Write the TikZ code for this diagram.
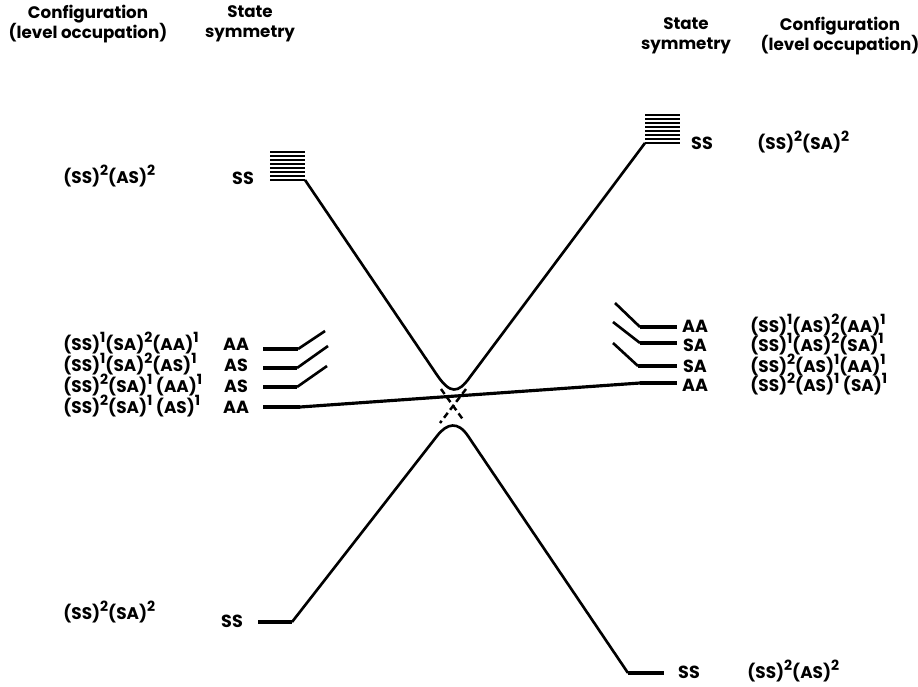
\documentclass[tikz,border=0pt]{standalone}
\usepackage{fontspec}
\setmainfont{Poppins}
\usepackage{tikz}
\usetikzlibrary{positioning}

\newcommand{\occ}[1]{\raisebox{0.42em}{\fontsize{8}{9}\selectfont #1}}

\begin{document}
\begin{tikzpicture}[
    x=0.02cm, y=-0.02cm,
    lbl/.style={font=\bfseries\fontsize{10}{11}\selectfont, inner sep=0pt},
    conf/.style={font=\bfseries\fontsize{9.6}{11}\selectfont, inner sep=0pt, anchor=west},
    head/.style={font=\bfseries\fontsize{9.5}{11.5}\selectfont, inner sep=0pt, align=center},
    level/.style={line width=2pt},
    curve/.style={line width=1.5pt},
    diab/.style={line width=1.4pt, dash pattern=on 3.5pt off 2.2pt}
]
    \useasboundingbox (0,0) rectangle (918,686);

    % Headings
    \node[head] (lconf) at (88,24) {Configuration\\(level occupation)};
    \node[head] (lsym) at (250,24) {State\\symmetry};
    \node[head] (rsym) at (686,36) {State\\symmetry};
    \node[head] (rconf) at (840,36) {Configuration\\(level occupation)};

    % Left levels
    \node[conf] (lc0) at (63,176) {(SS)\occ{2}(AS)\occ{2}};
    \node[lbl] (ls0) at (243,178) {SS};
    \node[conf] (lc1) at (63,343) {(SS)\occ{1}(SA)\occ{2}(AA)\occ{1}};
    \node[lbl] (ls1) at (236,344) {AA};
    \node[conf] (lc2) at (63,364) {(SS)\occ{1}(SA)\occ{2}(AS)\occ{1}};
    \node[lbl] (ls2) at (236,365) {AS};
    \node[conf] (lc3) at (63,385) {(SS)\occ{2}(SA)\occ{1} (AA)\occ{1}};
    \node[lbl] (ls3) at (236,386) {AS};
    \node[conf] (lc4) at (63,406) {(SS)\occ{2}(SA)\occ{1} (AS)\occ{1}};
    \node[lbl] (ls4) at (236,407) {AA};
    \node[conf] (lc5) at (63,612) {(SS)\occ{2}(SA)\occ{2}};
    \node[lbl] (ls5) at (232,621) {SS};

    % Right levels
    \node[lbl] (rs0) at (702,143) {SS};
    \node[conf] (rc0) at (757,142) {(SS)\occ{2}(SA)\occ{2}};
    \node[lbl] (rs1) at (695,326) {AA};
    \node[conf] (rc1) at (750,325) {(SS)\occ{1}(AS)\occ{2}(AA)\occ{1}};
    \node[lbl] (rs2) at (695,345) {SA};
    \node[conf] (rc2) at (750,344) {(SS)\occ{1}(AS)\occ{2}(SA)\occ{1}};
    \node[lbl] (rs3) at (695,366) {SA};
    \node[conf] (rc3) at (750,365) {(SS)\occ{2}(AS)\occ{1}(AA)\occ{1}};
    \node[lbl] (rs4) at (695,385) {AA};
    \node[conf] (rc4) at (750,384) {(SS)\occ{2}(AS)\occ{1} (SA)\occ{1}};
    \node[lbl] (rs5) at (689,672) {SS};
    \node[conf] (rc5) at (747,671) {(SS)\occ{2}(AS)\occ{2}};

    % Level end points
    \coordinate (lt) at (305,180);
    \coordinate (l1a) at (263,349); \coordinate (l1b) at (298,349); \coordinate (l1c) at (325,331);
    \coordinate (l2a) at (263,368); \coordinate (l2b) at (297,368); \coordinate (l2c) at (328,346);
    \coordinate (l3a) at (263,387); \coordinate (l3b) at (297,387); \coordinate (l3c) at (327,366);
    \coordinate (l4a) at (263,407); \coordinate (l4b) at (300,407);
    \coordinate (l5a) at (258,622); \coordinate (l5b) at (292,622);
    \coordinate (rt) at (645,143);
    \coordinate (r1a) at (615,303); \coordinate (r1b) at (640,327); \coordinate (r1c) at (677,327);
    \coordinate (r2a) at (613,322); \coordinate (r2b) at (640,343); \coordinate (r2c) at (677,343);
    \coordinate (r3a) at (613,343); \coordinate (r3b) at (638,366); \coordinate (r3c) at (677,366);
    \coordinate (r4a) at (640,383); \coordinate (r4b) at (677,383);
    \coordinate (r5a) at (628,673); \coordinate (r5b) at (664,673);

    % Dense stacks of SS levels
    \foreach \y in {152,156,...,180} \draw[line width=1.4pt] (270,\y) -- (305,\y);
    \foreach \y in {115,119,...,143} \draw[line width=1.4pt] (645,\y) -- (680,\y);

    % Excited levels
    \draw[level] (l1a) -- (l1b); \draw[curve] (l1b) -- (l1c);
    \draw[level] (l2a) -- (l2b); \draw[curve] (l2b) -- (l2c);
    \draw[level] (l3a) -- (l3b); \draw[curve] (l3b) -- (l3c);
    \draw[level] (r1b) -- (r1c); \draw[curve] (r1a) -- (r1b);
    \draw[level] (r2b) -- (r2c); \draw[curve] (r2a) -- (r2b);
    \draw[level] (r3b) -- (r3c); \draw[curve] (r3a) -- (r3b);
    \draw[level] (l4a) -- (l4b); \draw[level] (r4a) -- (r4b);
    \draw[curve, line width=1.8pt] (l4b) -- (r4a);
    \draw[level] (l5a) -- (l5b); \draw[level] (r5a) -- (r5b);

    % Avoided crossing
    \draw[curve] (lt) -- (437,375) .. controls (450,394) and (458,394) .. (470,377) -- (rt);
    \draw[curve] (l5b) -- (437,436) .. controls (447,423) and (458,421) .. (468,436) -- (r5a);
    \draw[diab] (441,389) -- (464,421);
    \draw[diab] (466,389) -- (440,423);

\end{tikzpicture}
\end{document}
